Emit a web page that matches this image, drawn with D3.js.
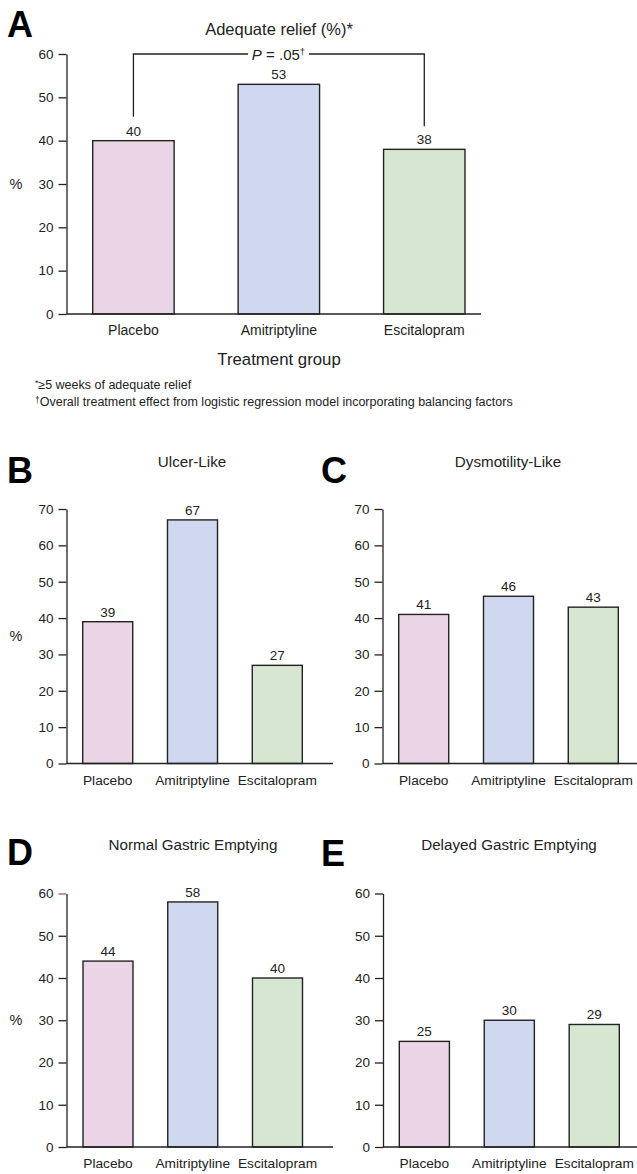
<!DOCTYPE html>
<html>
<head>
<meta charset="utf-8">
<script src="https://cdn.jsdelivr.net/npm/d3@7"></script>
<style>
  html, body { margin: 0; padding: 0; background: #fff; }
  svg { display: block; font-family: "Liberation Sans", Arial, sans-serif; }
</style>
</head>
<body>
<svg id="chart" width="637" height="1174"></svg>
<script>
// Treatment groups and response rates (%)
const categories = ["Placebo", "Amitriptyline", "Escitalopram"];
const adequateRelief = [40, 53, 38];
const ulcerLike = [39, 67, 27];
const dysmotilityLike = [41, 46, 43];
const normalEmptying = [44, 58, 40];
const delayedEmptying = [25, 30, 29];

const ticks60 = [0, 10, 20, 30, 40, 50, 60];
const ticks70 = [0, 10, 20, 30, 40, 50, 60, 70];

const barColors = ["#ecd4e7", "#d0d8f0", "#d6e6d1"];
const ink = "#222";

const svg = d3.select("#chart");

function panel(opts) {
  const g = svg.append("g");
  const y = d3.scaleLinear().domain([0, opts.max]).range([opts.y0, opts.yTop]);
  const x = d3.scaleBand().domain(categories)
    .range([opts.barStart, opts.barEnd])
    .paddingInner(opts.pad).paddingOuter(0);

  // panel letter
  g.append("text").attr("x", opts.letterX).attr("y", opts.letterY)
    .attr("font-size", 36).attr("font-weight", "bold").attr("fill", "#000")
    .text(opts.letter);

  // title
  g.append("text").attr("x", opts.titleX).attr("y", opts.titleY)
    .attr("text-anchor", "middle").attr("font-size", opts.titleSize || 15.2)
    .attr("fill", ink).text(opts.title);

  // bars
  g.selectAll("rect.bar").data(opts.values).join("rect")
    .attr("class", "bar")
    .attr("x", (d, i) => x(categories[i]))
    .attr("y", d => y(d))
    .attr("width", x.bandwidth())
    .attr("height", d => y(0) - y(d))
    .attr("fill", (d, i) => barColors[i])
    .attr("stroke", ink).attr("stroke-width", 1.4);

  // value labels
  g.selectAll("text.val").data(opts.values).join("text")
    .attr("class", "val")
    .attr("x", (d, i) => x(categories[i]) + x.bandwidth() / 2)
    .attr("y", d => y(d) - 5)
    .attr("text-anchor", "middle").attr("font-size", 13.5).attr("fill", ink)
    .text(d => d);

  // y axis
  const yAxis = d3.axisLeft(y).tickValues(opts.ticks).tickSize(8).tickSizeOuter(0).tickPadding(5);
  const ya = g.append("g").attr("transform", `translate(${opts.axisX},0)`).call(yAxis);
  ya.select(".domain").attr("stroke", ink).attr("stroke-width", 1.3);
  ya.selectAll(".tick line").attr("stroke", ink).attr("stroke-width", 1.3);
  ya.selectAll(".tick text").attr("font-size", 13.5).attr("fill", ink)
    .attr("font-family", "Liberation Sans, Arial, sans-serif");
  if (opts.topTickColor) {
    ya.selectAll(".tick").filter(d => d === opts.max).select("line")
      .attr("stroke", opts.topTickColor);
  }

  // x baseline
  g.append("line").attr("x1", opts.axisX).attr("x2", opts.axisEnd)
    .attr("y1", y(0)).attr("y2", y(0))
    .attr("stroke", ink).attr("stroke-width", 1.3);

  // category labels
  g.selectAll("text.cat").data(categories).join("text")
    .attr("class", "cat")
    .attr("x", d => x(d) + x.bandwidth() / 2)
    .attr("y", y(0) + opts.catOffset)
    .attr("text-anchor", "middle").attr("font-size", opts.catSize).attr("fill", ink)
    .text(d => d);

  if (opts.showPct) {
    g.append("text").attr("x", 16).attr("y", (opts.y0 + opts.yTop) / 2 + 5)
      .attr("text-anchor", "middle").attr("font-size", 14.5).attr("fill", ink).text("%");
  }
  return { x, y, g };
}

// Panel A: adequate relief overall
const A = panel({
  letter: "A", letterX: 7, letterY: 37,
  title: "Adequate relief (%)*", titleX: 279, titleY: 35, titleSize: 16.5,
  values: adequateRelief, max: 60, ticks: ticks60,
  y0: 314, yTop: 54, axisX: 66.5, axisEnd: 481,
  barStart: 92.7, barEnd: 465, pad: 0.44,
  catOffset: 21, catSize: 14, showPct: true
});

// significance bracket between Placebo and Escitalopram
{
  const { x, y, g } = A;
  const cx = c => x(c) + x.bandwidth() / 2;
  const xl = cx("Placebo"), xr = cx("Escitalopram");
  const top = y(60);
  const gapL = 248, gapR = 309;
  const pathL = d3.path();
  pathL.moveTo(xl, y(adequateRelief[0]) - 24); pathL.lineTo(xl, top); pathL.lineTo(gapL, top);
  const pathR = d3.path();
  pathR.moveTo(gapR, top); pathR.lineTo(xr, top); pathR.lineTo(xr, y(adequateRelief[2]) - 23);
  g.append("path").attr("d", pathL.toString()).attr("fill", "none").attr("stroke", ink).attr("stroke-width", 1.3);
  g.append("path").attr("d", pathR.toString()).attr("fill", "none").attr("stroke", ink).attr("stroke-width", 1.3);
  const t = g.append("text").attr("x", (gapL + gapR) / 2).attr("y", top + 5.5)
    .attr("text-anchor", "middle").attr("font-size", 15).attr("fill", ink);
  t.append("tspan").attr("font-style", "italic").text("P");
  t.append("tspan").text(" = .05");
  t.append("tspan").attr("font-size", 9.5).attr("dy", -5).text("†");

  g.append("text").attr("x", 279).attr("y", 365).attr("text-anchor", "middle")
    .attr("font-size", 16.8).attr("fill", ink).text("Treatment group");

  const f1 = g.append("text").attr("x", 35).attr("y", 389).attr("font-size", 12.5).attr("fill", ink);
  f1.append("tspan").attr("font-size", 8.5).attr("dy", -3).text("*");
  f1.append("tspan").attr("dy", 3).text("≥5 weeks of adequate relief");
  const f2 = g.append("text").attr("x", 35).attr("y", 406).attr("font-size", 12.5).attr("fill", ink);
  f2.append("tspan").attr("font-size", 8.5).attr("dy", -3).text("†");
  f2.append("tspan").attr("dy", 3).text("Overall treatment effect from logistic regression model incorporating balancing factors");
}

// Panel B: ulcer-like
panel({
  letter: "B", letterX: 7, letterY: 483,
  title: "Ulcer-Like", titleX: 192, titleY: 467,
  values: ulcerLike, max: 70, ticks: ticks70,
  y0: 763.5, yTop: 509, axisX: 66.5, axisEnd: 333,
  barStart: 82.7, barEnd: 302.3, pad: 0.41,
  catOffset: 21, catSize: 13.7, showPct: true
});

// Panel C: dysmotility-like
panel({
  letter: "C", letterX: 321, letterY: 483,
  title: "Dysmotility-Like", titleX: 508, titleY: 467,
  values: dysmotilityLike, max: 70, ticks: ticks70,
  y0: 763.5, yTop: 509, axisX: 382.5, axisEnd: 637,
  barStart: 398.7, barEnd: 618.3, pad: 0.41,
  catOffset: 21, catSize: 13.7, showPct: false
});

// Panel D: normal gastric emptying
panel({
  letter: "D", letterX: 7, letterY: 865,
  title: "Normal Gastric Emptying", titleX: 193, titleY: 850,
  values: normalEmptying, max: 60, ticks: ticks60,
  y0: 1147, yTop: 893.5, axisX: 66.5, axisEnd: 333,
  barStart: 83, barEnd: 302.5, pad: 0.41,
  catOffset: 21, catSize: 13.7, showPct: true, topTickColor: "#b0508a"
});

// Panel E: delayed gastric emptying
panel({
  letter: "E", letterX: 321, letterY: 866,
  title: "Delayed Gastric Emptying", titleX: 509, titleY: 850,
  values: delayedEmptying, max: 60, ticks: ticks60,
  y0: 1147, yTop: 893.5, axisX: 383, axisEnd: 637,
  barStart: 399.3, barEnd: 619.3, pad: 0.41,
  catOffset: 21, catSize: 13.7, showPct: false
});
</script>
</body>
</html>
